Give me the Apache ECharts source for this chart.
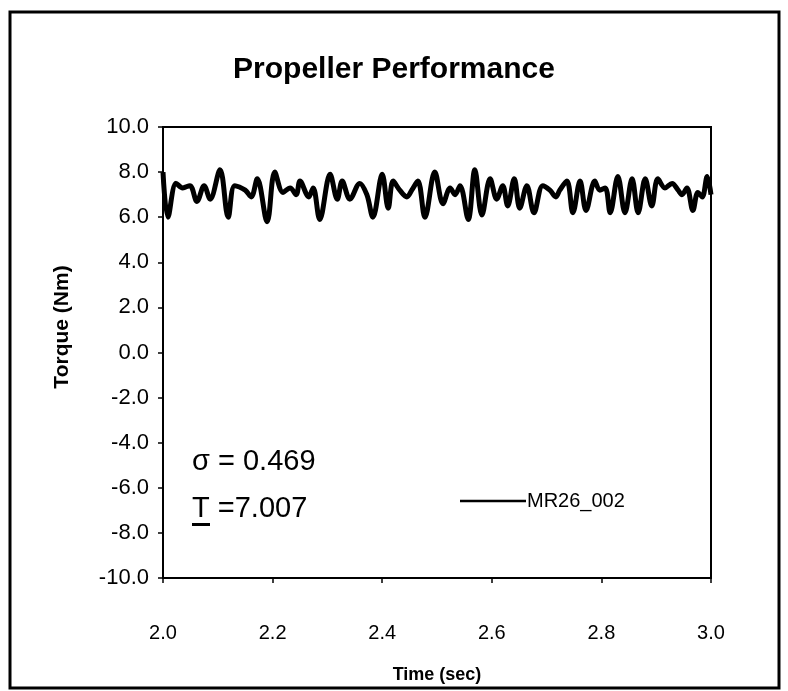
<!DOCTYPE html>
<html>
<head>
<meta charset="utf-8">
<script src="https://cdn.jsdelivr.net/npm/echarts@6/dist/echarts.min.js"></script>
<style>
html,body{margin:0;padding:0;background:#fff;}
#chart{width:788px;height:691px;}
</style>
</head>
<body>
<div id="chart"></div>
<script>
const chartTitle = 'Propeller Performance';
const seriesName = 'MR26_002';
const xAxisTitle = 'Time (sec)';
const yAxisTitle = 'Torque (Nm)';
const xTicks = ['2.0','2.2','2.4','2.6','2.8','3.0'];
const yTicks = ['-10.0','-8.0','-6.0','-4.0','-2.0','0.0','2.0','4.0','6.0','8.0','10.0'];
const times = [2.000,2.009,2.024,2.036,2.049,2.062,2.075,2.086,2.104,2.119,2.131,2.150,2.161,2.172,2.190,2.204,2.219,2.232,2.243,2.250,2.266,2.274,2.286,2.305,2.318,2.327,2.341,2.359,2.372,2.383,2.400,2.411,2.420,2.432,2.445,2.454,2.465,2.478,2.496,2.511,2.524,2.533,2.542,2.557,2.569,2.582,2.597,2.609,2.620,2.629,2.641,2.651,2.664,2.677,2.693,2.706,2.717,2.724,2.737,2.748,2.761,2.772,2.788,2.797,2.807,2.816,2.830,2.843,2.856,2.867,2.880,2.892,2.903,2.916,2.929,2.940,2.947,2.956,2.967,2.976,2.984,2.993,3.000];
const torque = [8.0,6.0,7.5,7.3,7.4,6.7,7.4,6.8,8.1,6.0,7.4,7.2,6.9,7.7,5.8,8.0,7.1,7.3,7.0,7.6,6.9,7.3,5.9,7.9,6.8,7.6,6.8,7.5,7.0,6.0,7.9,6.4,7.6,7.2,6.9,7.2,7.6,6.0,8.0,6.6,7.3,7.0,7.4,5.9,8.1,6.1,7.7,6.8,7.4,6.5,7.7,6.4,7.4,6.2,7.4,7.2,6.9,7.2,7.6,6.2,7.6,6.3,7.6,7.2,7.3,6.2,7.8,6.2,7.7,6.2,7.7,6.5,7.7,7.3,7.5,7.2,7.0,7.3,6.3,7.1,6.9,7.8,7.0];
const sigmaText = 'σ = 0.469';
const meanText = 'T =7.007';

const FONT = '"Liberation Sans", Arial, sans-serif';
const data = times.map((t, i) => [t, torque[i]]);

const chart = echarts.init(document.getElementById('chart'), null, {renderer: 'canvas'});
chart.setOption({
  animation: false,
  backgroundColor: '#fff',
  title: {
    text: chartTitle,
    left: 'center',
    top: 50,
    textStyle: {fontFamily: FONT, fontSize: 30, fontWeight: 'bold', color: '#000'}
  },
  legend: {
    left: 455,
    top: 486,
    itemWidth: 66,
    itemHeight: 14,
    itemGap: 0,
    icon: 'path://M0,6 L66,6 L66,8.5 L0,8.5 Z',
    data: [seriesName],
    textStyle: {fontFamily: FONT, fontSize: 20, color: '#000', padding: [0,0,0,-4]}
  },
  grid: {left: 163, right: 77, top: 127, bottom: 113, containLabel: false, outerBoundsMode: 'none'},
  xAxis: {
    type: 'value', min: 2, max: 3, interval: 0.2,
    name: xAxisTitle, nameLocation: 'middle', nameGap: 88,
    nameTextStyle: {fontFamily: FONT, fontSize: 18, fontWeight: 'bold', color: '#000'},
    axisLine: {show: true, onZero: false, lineStyle: {color: '#000', width: 2}},
    axisTick: {show: true, length: 5, lineStyle: {color: '#000', width: 1.5}},
    axisLabel: {margin: 45, fontFamily: FONT, fontSize: 20, color: '#000',
      formatter: v => xTicks[Math.round((v - 2) / 0.2)]},
    splitLine: {show: false}
  },
  yAxis: {
    type: 'value', min: -10, max: 10, interval: 2,
    axisLine: {show: true, onZero: false, lineStyle: {color: '#000', width: 2}},
    axisTick: {show: true, length: 5, lineStyle: {color: '#000', width: 1.5}},
    axisLabel: {margin: 14, fontFamily: FONT, fontSize: 22, color: '#000',
      formatter: v => yTicks[Math.round((v + 10) / 2)]},
    splitLine: {show: false}
  },
  graphic: [
    {type: 'rect', shape: {x: 10, y: 12, width: 769, height: 676},
     style: {fill: 'none', stroke: '#000', lineWidth: 3}, silent: true},
    {type: 'rect', shape: {x: 163, y: 127, width: 548, height: 451},
     style: {fill: 'none', stroke: '#000', lineWidth: 2}, silent: true, z: 10},
    {type: 'text', x: 62, y: 327, rotation: Math.PI / 2,
     style: {text: yAxisTitle, fontFamily: FONT, fontSize: 21, fontWeight: 'bold', fill: '#000',
       align: 'center', verticalAlign: 'middle'}},
    {type: 'text', x: 192, y: 447,
     style: {text: sigmaText, fontFamily: FONT, fontSize: 29, fill: '#000'}},
    {type: 'text', x: 192, y: 494,
     style: {text: meanText, fontFamily: FONT, fontSize: 29, fill: '#000'}},
    {type: 'rect', shape: {x: 192, y: 523, width: 18, height: 3},
     style: {fill: '#000'}}
  ],
  series: [{
    name: seriesName,
    type: 'line',
    data: data,
    smooth: 0.35,
    showSymbol: false,
    symbol: 'none',
    lineStyle: {color: '#000', width: 5},
    itemStyle: {color: '#000'}
  }]
});
</script>
</body>
</html>
